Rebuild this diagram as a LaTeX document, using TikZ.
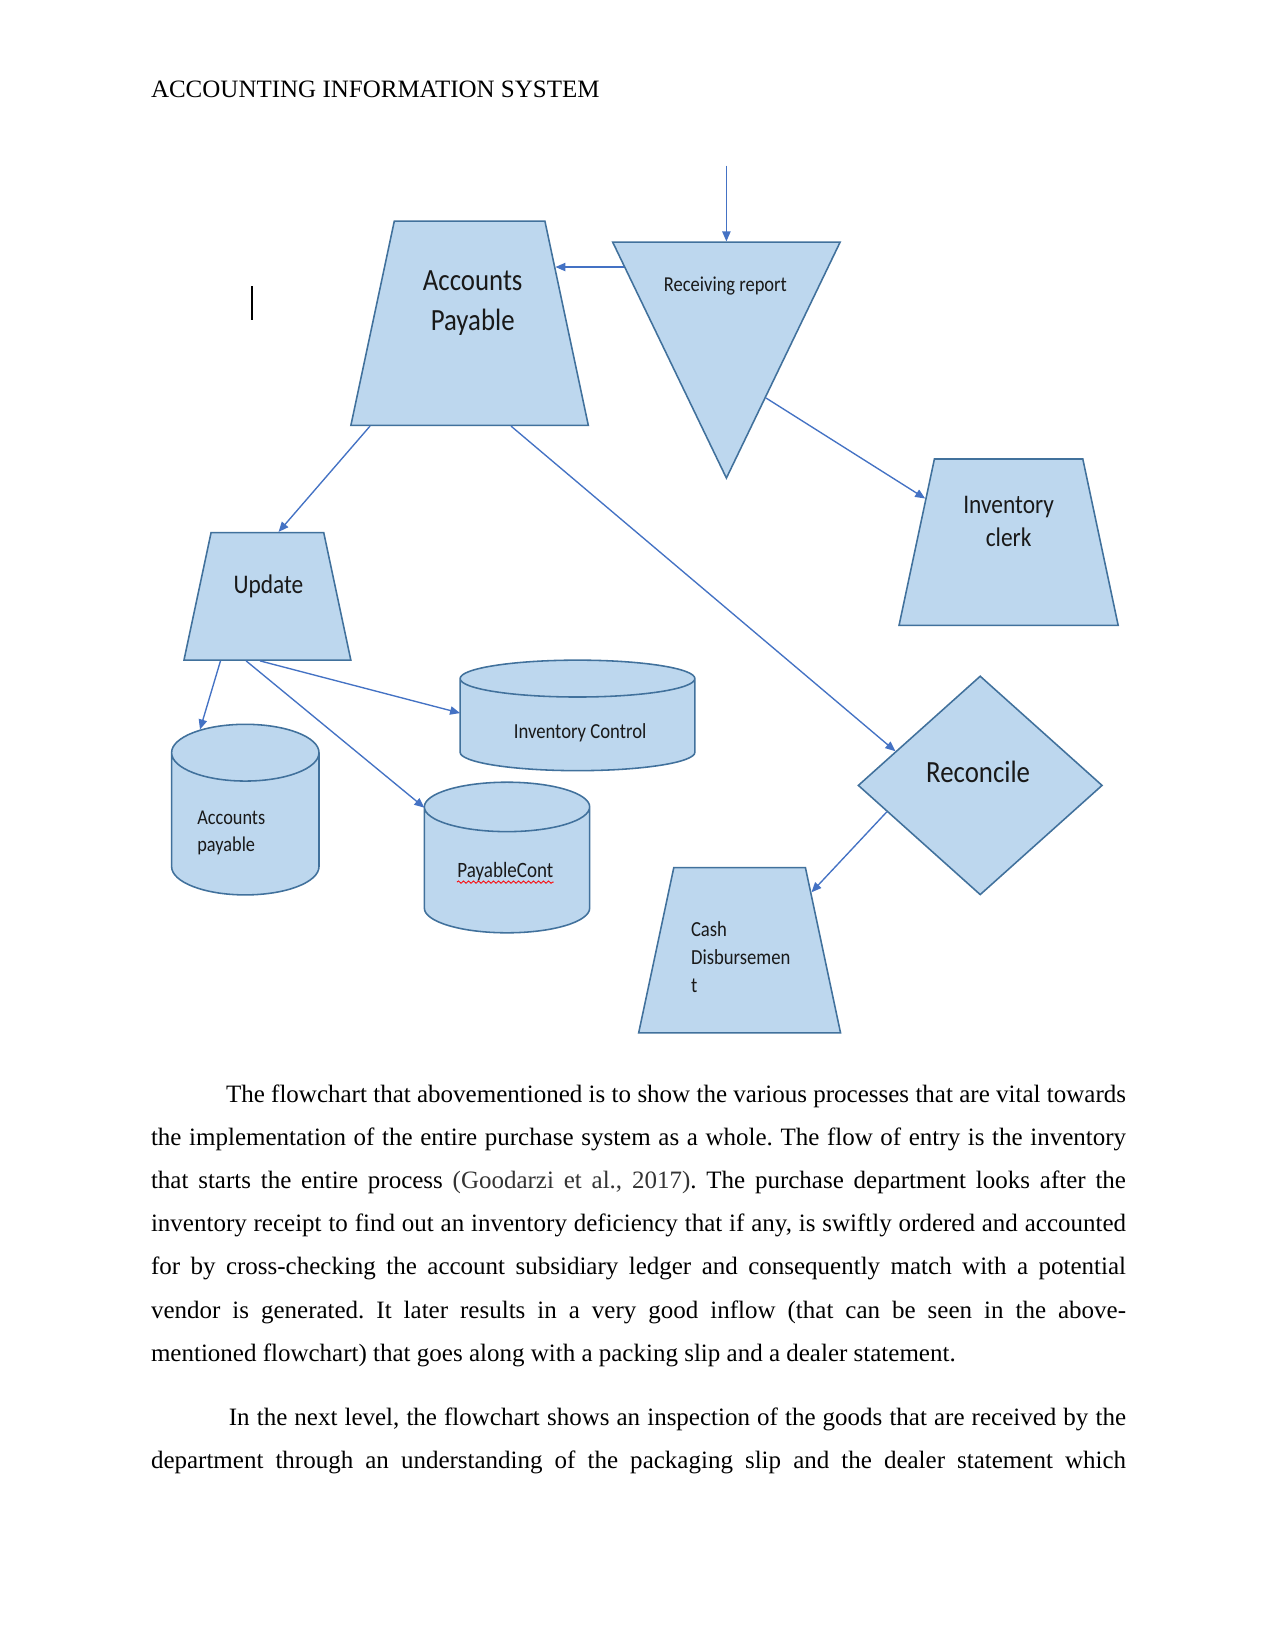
\documentclass[tikz,border=0pt]{standalone}
\usepackage{fontspec}
\setmainfont{Liberation Serif}
\newfontfamily\diafont[FakeStretch=0.87]{Carlito}
\usetikzlibrary{arrows.meta, shapes.geometric, calc, decorations.pathmorphing}
\definecolor{shapefill}{RGB}{189,215,238}
\definecolor{shapeedge}{RGB}{65,113,156}
\definecolor{flowline}{RGB}{68,114,196}
\newdimen\pxu \pxu=0.48pt
% invisible body: top width and height in px
\newcommand{\trapbody}[2]{\rule{0pt}{#2\pxu}\hspace*{#1\pxu}}
\newcommand{\dbbody}[1]{\rule{#1\pxu}{0pt}\rule{0pt}{2pt}}
\frenchspacing

\begin{document}
\begin{tikzpicture}[x=0.48pt, y=-0.48pt,
    shapebox/.style={draw=shapeedge, fill=shapefill, line width=0.75pt, inner sep=1pt},
    trapbox/.style={shapebox, trapezium, trapezium left angle=78, trapezium right angle=78, inner sep=0pt},
    dbbox/.style={shapebox, cylinder, shape border rotate=90, inner sep=0pt, anchor=shape center},
    lbl/.style={font=\diafont, text=black!90, inner sep=0pt},
    bodyline/.style={anchor=base west, inner sep=0pt, font=\fontsize{12}{14}\selectfont},
    flow/.style={draw=flowline, line width=0.65pt, -{Triangle[length=4.8pt, width=4pt]}}
]
    \fill[white] (0,0) rectangle (1275,1651);
    \useasboundingbox (0,0) rectangle (1275,1651);

    % page header
    \node[bodyline] (header) at (150.6,98) {ACCOUNTING INFORMATION SYSTEM};

    % flowchart shapes
    \node[trapbox] (ap) at (469.6,323.2) {\trapbody{150.6}{204.2}};
    \node[shapebox, isosceles triangle, shape border rotate=270, isosceles triangle stretches,
          minimum width={227.4*\pxu}, minimum height={235.9*\pxu}, anchor=apex] (recv) at (726.4,480.1) {};
    \node[trapbox] (clerk) at (1008.6,542.2) {\trapbody{148.4}{166.4}};
    \node[trapbox] (update) at (267.4,596.4) {\trapbody{112.7}{127.4}};
    \node[dbbox, minimum height={110.5*\pxu}, shape aspect=0.157] (invctl) at (577.5,715.4) {\dbbody{234.8}};
    \node[dbbox, minimum height={170.6*\pxu}, shape aspect=0.385] (accpay) at (245.3,809.6) {\dbbody{147.4}};
    \node[dbbox, minimum height={150.6*\pxu}, shape aspect=0.299] (paycont) at (507,857.5) {\dbbody{165.3}};
    \node[shapebox, diamond, minimum width={244.3*\pxu}, minimum height={219*\pxu}] (rec) at (980.2,785.4) {};
    \node[trapbox] (cash) at (739.6,950.2) {\trapbody{131.6}{165.3}};

    % shape texts
    \node[lbl, align=center, font=\diafont\fontsize{14.8}{19.2}\selectfont] (aptext) at (472.7,303.2) {Accounts\\Payable};
    \node[lbl, font=\diafont\fontsize{10.2}{12}\selectfont] (recvtext) at (725.4,286.4) {Receiving report};
    \node[lbl, align=center, font=\diafont\fontsize{12.9}{15.7}\selectfont] (clerktext) at (1008.6,521.7) {Inventory\\clerk};
    \node[lbl, font=\diafont\fontsize{12.9}{15}\selectfont] (updatetext) at (268.5,586.4) {Update};
    \node[lbl, font=\diafont\fontsize{10.3}{12}\selectfont] (invctltext) at (580.1,732.7) {Inventory Control};
    \node[lbl, align=left, anchor=west, font=\diafont\fontsize{10.1}{13.1}\selectfont] (accpaytext) at (196.9,832.8) {Accounts\\payable};
    \node[lbl, font=\diafont\fontsize{10.5}{12}\selectfont] (paycontext) at (505.3,871.7) {PayableCont};
    \node[lbl, font=\diafont\fontsize{14.8}{17}\selectfont] (rectext) at (978.1,771.7) {Reconcile};
    \node[lbl, align=left, anchor=west, font=\diafont\fontsize{10.3}{13.4}\selectfont] (cashtext) at (690.6,957.5) {Cash\\Disbursemen\\t};
    \draw[red, line width=0.4pt, decorate, decoration={snake, amplitude=0.55pt, segment length=2.4pt}]
        ([yshift=-2.2pt]paycontext.base west) -- ([yshift=-2.2pt]paycontext.base east);

    % text cursor
    \draw[black, line width=0.9pt] (251.6,286.4) -- (251.6,320);

    % connectors
    \coordinate (entry) at ([yshift=36.4pt]recv.lower side);
    \coordinate (apin) at ($(ap.top right corner)!0.227!(ap.bottom right corner)$);
    \coordinate (recvout) at ($(recv.lower side)+(-102.5,0)$);
    \draw[flow] (entry) -- (recv.lower side);
    \draw[flow] (recvout |- apin) -- (apin);
    \draw[flow] ($(recv.apex)+(39.6,-82.1)$) -- ($(clerk.top left corner)!0.24!(clerk.bottom left corner)$);
    \draw[flow] ($(ap.bottom left corner)!0.084!(ap.bottom right corner)$) -- ($(update.top left corner)!0.598!(update.top right corner)$);
    \draw[flow] ($(ap.bottom left corner)!0.673!(ap.bottom right corner)$) -- ($(rec.west)!0.31!(rec.north)$);
    \draw[flow] ($(update.bottom left corner)!0.222!(update.bottom right corner)$) -- ($(accpay.top)+(-45.3,6)$);
    \draw[flow] ($(update.bottom left corner)!0.456!(update.bottom right corner)$) -- ($(invctl.top)+(-117.4,53.7)$);
    \draw[flow] ($(update.bottom left corner)!0.374!(update.bottom right corner)$) -- ($(paycont.top)+(-82.6,26.3)$);
    \draw[flow] ($(rec.west)!0.24!(rec.south)$) -- ($(cash.top right corner)!0.153!(cash.bottom right corner)$);

    % body text
    \node[bodyline] (p1l1) at (225.6,1102) {\makebox[432pt][s]{The flowchart that abovementioned is to show the various processes that are vital towards}};
    \node[bodyline] (p1l2) at (150.6,1145.2) {\makebox[468pt][s]{the implementation of the entire purchase system as a whole. The flow of entry is the inventory}};
    \node[bodyline] (p1l3) at (150.6,1188.4) {\makebox[468pt][s]{that starts the entire process {\color{black!80}(Goodarzi et al., 2017)}. The purchase department looks after the}};
    \node[bodyline] (p1l4) at (150.6,1231.6) {\makebox[468pt][s]{inventory receipt to find out an inventory deficiency that if any, is swiftly ordered and accounted}};
    \node[bodyline] (p1l5) at (150.6,1274.8) {\makebox[468pt][s]{for by cross-checking the account subsidiary ledger and consequently match with a potential}};
    \node[bodyline] (p1l6) at (150.6,1318) {\makebox[468pt][s]{vendor is generated. It later results in a very good inflow (that can be seen in the above-}};
    \node[bodyline] (p1l7) at (150.6,1361.2) {mentioned flowchart) that goes along with a packing slip and a dealer statement.};
    \node[bodyline] (p2l1) at (228.5,1425) {\makebox[430.6pt][s]{In the next level, the flowchart shows an inspection of the goods that are received by the}};
    \node[bodyline] (p2l2) at (150.6,1468.2) {\makebox[468pt][s]{department through an understanding of the packaging slip and the dealer statement which}};
\end{tikzpicture}
\end{document}
